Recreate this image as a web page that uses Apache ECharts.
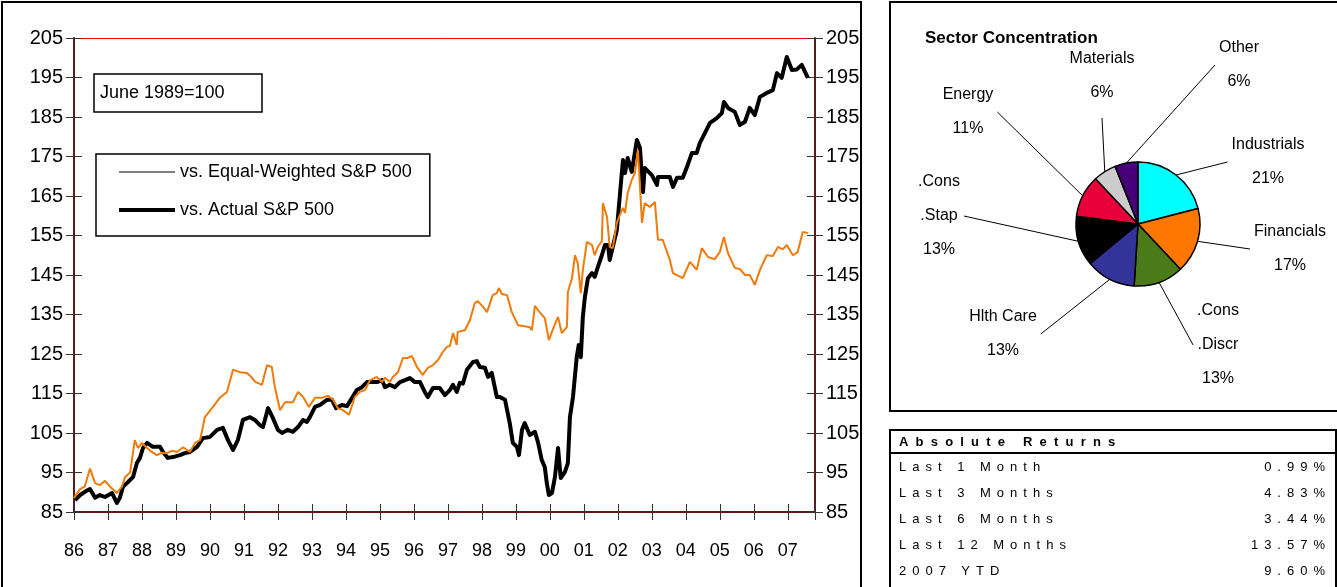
<!DOCTYPE html>
<html>
<head>
<meta charset="utf-8">
<title>Relative performance</title>
<script src="https://cdn.jsdelivr.net/npm/echarts@6/dist/echarts.min.js"></script>
<style>
  html, body { margin: 0; padding: 0; background: #fff; overflow: hidden; }
  #page { position: relative; width: 1337px; height: 587px; }
  .frame { position: absolute; border: 2px solid #000; box-sizing: border-box; }
  #chart { position: absolute; left: 0; top: 0; width: 1337px; height: 587px; }
  #returns { position: absolute; left: 889px; top: 429px; width: 448px; height: 180px;
    border: 2px solid #000; box-sizing: border-box; font-family: 'Liberation Sans', Arial, sans-serif;
    font-size: 13px; color: #000; }
  #returns .head { height: 21px; line-height: 21px; padding-left: 8px; font-weight: bold;
    letter-spacing: 7.2px; border-bottom: 2px solid #000; }
  #returns .row { height: 26px; line-height: 26px; padding: 0 4px 0 8px; letter-spacing: 6px;
    display: flex; justify-content: space-between; }
</style>
</head>
<body>
<div id="page">
  <div class="frame" style="left:1px;top:1px;width:861px;height:600px"></div>
  <div class="frame" style="left:889px;top:1px;width:460px;height:411px"></div>
  <div id="chart"></div>
  <div id="returns"></div>
</div>
<script>
// index levels, June 1989 = 100
const eqYears = [
  1986.00, 1986.18, 1986.32, 1986.47, 1986.62, 1986.76, 1986.91,
  1987.06, 1987.26, 1987.41, 1987.50, 1987.65, 1987.79, 1987.88,
  1988.00, 1988.15, 1988.29, 1988.44, 1988.59, 1988.74, 1988.88,
  1989.03, 1989.21, 1989.41, 1989.56, 1989.71, 1989.85,
  1990.09, 1990.29, 1990.50, 1990.68, 1990.88,
  1991.09, 1991.24, 1991.32, 1991.53, 1991.68, 1991.82, 1991.91,
  1992.06, 1992.21, 1992.44, 1992.59, 1992.74, 1992.91,
  1993.09, 1993.29, 1993.47, 1993.62, 1993.76, 1993.91,
  1994.09, 1994.26, 1994.41, 1994.56, 1994.71, 1994.91,
  1995.06, 1995.15, 1995.29, 1995.38, 1995.53, 1995.68, 1995.82, 1995.94,
  1996.09, 1996.26, 1996.41, 1996.56, 1996.71, 1996.85, 1996.97,
  1997.06, 1997.15, 1997.26, 1997.29, 1997.50, 1997.65, 1997.79, 1997.88,
  1998.03, 1998.15, 1998.32, 1998.44, 1998.50, 1998.59, 1998.74, 1998.88,
  1999.06, 1999.26, 1999.41, 1999.47, 1999.56, 1999.65, 1999.85, 1999.97,
  2000.09, 2000.24, 2000.35, 2000.50, 2000.53, 2000.65, 2000.74, 2000.82, 2000.91, 2000.97,
  2001.09, 2001.24, 2001.32, 2001.41, 2001.53, 2001.56, 2001.68, 2001.76, 2001.85, 2001.97,
  2002.06, 2002.15, 2002.21, 2002.29, 2002.41, 2002.50, 2002.59, 2002.71, 2002.79, 2002.94,
  2003.09, 2003.18, 2003.32, 2003.53, 2003.62, 2003.91,
  2004.12, 2004.32, 2004.47, 2004.65, 2004.85,
  2005.00, 2005.12, 2005.24, 2005.44, 2005.59, 2005.74, 2005.88,
  2006.03, 2006.18, 2006.38, 2006.56, 2006.71, 2006.85, 2006.97,
  2007.15, 2007.29, 2007.44, 2007.59
]
const eqValues = [
  88.5, 90.8, 91.5, 96, 92.3, 91.8, 92.9,
  91.4, 89.8, 91.4, 93.8, 95, 103.2, 101.2,
  102.5, 101.2, 100.2, 99.4, 100, 99.9, 100.5,
  100.2, 101.4, 100.2, 102.5, 103.2, 109,
  111.6, 113.9, 115.4, 121, 120.4,
  120.2, 119, 118, 117.2, 122.2, 121.7, 116.6,
  110.8, 112.8, 112.8, 115.4, 114.1, 111.6,
  113.9, 113.9, 114.4, 113.4, 111.3, 110.8,
  109.6, 114.1, 115.4, 115.9, 118.4, 119.2,
  117.9, 119, 117.9, 119.2, 120.4, 124, 124, 124.5,
  121.7, 119.7, 121.5, 122.2, 123.5, 125.5, 126.8,
  127, 130.3, 127.3, 130.6, 131, 133.6, 137.9, 138.4,
  137, 135.6, 139.9, 140.4, 141.7, 140.2, 139.9, 135.6,
  132.3, 132, 131.8, 131, 137.2, 136.1, 134.1, 128.5,
  131.3, 134.4, 130.3, 131.8, 140.7, 144.2, 150, 148, 140.4, 146.3,
  153.4, 152.6, 150, 152.1, 153.6, 163.2, 159.7, 152.1, 151.8, 158.2,
  160.2, 162, 160.7, 165.8, 169.1, 170.8, 176.6, 158.2, 163.2, 162.2,
  163.5, 153.9, 153.9, 148.8, 145.5, 144.2,
  148.3, 146.3, 151.8, 149.6, 149,
  150.8, 154.6, 150.5, 146.8, 146.5, 145, 145,
  142.5, 146.3, 150, 149.8, 152.1, 151.5, 152.6,
  150, 150.8, 155.9, 155.6
]

const actYears = [
  1986.03, 1986.18, 1986.32, 1986.47, 1986.62, 1986.76, 1986.91,
  1987.12, 1987.26, 1987.35, 1987.44, 1987.59, 1987.74, 1987.85, 1987.94,
  1988.03, 1988.15, 1988.32, 1988.53, 1988.62, 1988.76, 1988.91,
  1989.12, 1989.26, 1989.41, 1989.62, 1989.79,
  1990.00, 1990.21, 1990.38, 1990.53, 1990.68, 1990.82, 1990.97,
  1991.18, 1991.32, 1991.47, 1991.56, 1991.71, 1991.85,
  1992.00, 1992.12, 1992.29, 1992.44, 1992.59, 1992.74, 1992.85, 1992.94,
  1993.09, 1993.24, 1993.44, 1993.59, 1993.71, 1993.88,
  1994.03, 1994.18, 1994.32, 1994.47, 1994.62, 1994.76, 1994.91,
  1995.06, 1995.15, 1995.29, 1995.44, 1995.59, 1995.74, 1995.88,
  1996.03, 1996.18, 1996.32, 1996.41, 1996.56, 1996.76, 1996.91,
  1997.06, 1997.15, 1997.26, 1997.35, 1997.44, 1997.56, 1997.74, 1997.85, 1997.94,
  1998.09, 1998.18, 1998.29, 1998.44, 1998.53, 1998.68, 1998.82, 1998.91,
  1999.03, 1999.09, 1999.18, 1999.26, 1999.41, 1999.56, 1999.65, 1999.76, 1999.85, 1999.91, 1999.97,
  2000.06, 2000.15, 2000.24, 2000.32, 2000.44, 2000.53, 2000.59, 2000.68, 2000.79, 2000.85, 2000.91, 2000.97,
  2001.03, 2001.12, 2001.24, 2001.32, 2001.41, 2001.53, 2001.62, 2001.71, 2001.76, 2001.85, 2001.97,
  2002.06, 2002.15, 2002.21, 2002.29, 2002.41, 2002.56, 2002.65, 2002.74, 2002.79,
  2003.00, 2003.15, 2003.18, 2003.53, 2003.62, 2003.74, 2003.91,
  2004.03, 2004.18, 2004.32, 2004.41, 2004.56, 2004.71, 2004.91,
  2005.06, 2005.12, 2005.24, 2005.44, 2005.59, 2005.74, 2005.88,
  2006.03, 2006.18, 2006.38, 2006.56, 2006.68, 2006.82, 2006.97,
  2007.12, 2007.26, 2007.41, 2007.59
]
const actValues = [
  88, 89.3, 90.1, 90.8, 88.6, 89.3, 88.8,
  89.8, 87.3, 88.6, 91.4, 92.6, 93.9, 97.4, 98.7,
  101.2, 102.5, 101.5, 101.5, 100.2, 98.7, 98.9,
  99.4, 99.9, 100.2, 101.5, 103.7,
  104, 105.8, 106.3, 103.2, 100.7, 103.2, 108.3,
  109, 108.3, 107, 106.5, 111.3, 108.8,
  105.8, 105, 105.8, 105.3, 106.5, 108.3, 107.8, 109,
  111.6, 112.1, 113.4, 113.4, 111.3, 112.1,
  111.8, 113.9, 115.9, 116.6, 117.9, 117.9, 117.9,
  118.4, 116.6, 117.2, 116.6, 117.9, 118.4, 118.9,
  117.9, 117.9, 115.4, 114.1, 116.4, 116.4, 114.6,
  115.9, 117.2, 115.4, 117.7, 117.5, 121, 123, 123.2, 121.7,
  121.5, 119.2, 120.2, 114.1, 114.1, 113.4, 107.5, 102.5,
  101.5, 99.4, 105.8, 107.5, 104.5, 105.3, 102.7, 98.2, 96.4, 92.3, 89.3,
  89.8, 93.9, 101.2, 93.6, 95.1, 97.4, 109, 114.1, 124.2, 127.3, 124.2, 134.4,
  139.4, 144.2, 145.5, 144.5, 147, 150, 152.6, 152.6, 148.8, 152.1, 156.4,
  165.3, 174.1, 170.8, 174.6, 171.1, 179.2, 177.2, 166, 172.1,
  170.3, 167.8, 169.8, 169.8, 167.3, 169.6, 169.6,
  172.3, 175.9, 175.9, 178.4, 180.9, 183.5, 184.7,
  186, 188.8, 187.3, 186.3, 183, 183.8, 187.3,
  185.5, 190.1, 191.1, 191.8, 196.1, 194.9, 200.2,
  196.9, 197, 198.2, 194.9
]

// sector weights, clockwise from 12 o'clock
const sectorNames = ['Industrials', 'Financials', '.Cons\n.Discr', 'Hlth Care', '.Cons\n.Stap', 'Energy', 'Materials', 'Other']
const sectorWeights = [21, 17, 13, 13, 13, 11, 6, 6]
const sectorColors = ['#00ffff', '#ff7700', '#4b7a18', '#333399', '#000000', '#e8003a', '#cccccc', '#47007a']

const returnLabels = ['Last 1 Month', 'Last 3 Months', 'Last 6 Months', 'Last 12 Months', '2007 YTD']
const returnValues = ['0.99%', '4.83%', '3.44%', '13.57%', '9.60%']

const FONT = "'Liberation Sans', Arial, sans-serif"
const AXIS_COLOR = '#5e1a1a'
const pieCenter = [1138, 224]
// where each pie label sits, relative to the pie centre (hand placed, like the original),
// and which side of the label its leader line runs to
const labelOffsets = [[130, -62], [152, 25], [80, 121], [-135, 110], [-199, -8], [-170, -112], [-36, -148], [101, -159]]
const labelSides = ['left', 'left', 'left', 'right', 'right', 'right', 'bottom', 'left']

function zip(xs, ys) {
  return xs.map(function (x, i) { return [x, ys[i]] })
}

function yearAxis(extra) {
  let axis = {
    type: 'value', min: 1986, max: 2007.8, interval: 1,
    splitLine: {show: false},
    axisLine: {show: false},
    axisTick: {show: false},
    axisLabel: {show: false}
  }
  return Object.assign(axis, extra)
}

function levelAxis(extra) {
  let axis = {
    type: 'value', min: 85, max: 205, interval: 10,
    splitLine: {show: false},
    axisLine: {show: false},
    axisTick: {show: false},
    axisLabel: {show: false}
  }
  return Object.assign(axis, extra)
}

const tickStyle = {show: true, length: 8, lineStyle: {color: '#333', width: 1}}
const yLabel = {show: true, color: '#000', fontSize: 20, fontFamily: FONT, margin: 11}

// end of a leader line: just off the chosen side of the moved label
function leaderEnd(side, cx, cy, rect) {
  let gap = 4
  if (side === 'left') return [cx - rect.width / 2 - gap, cy]
  if (side === 'right') return [cx + rect.width / 2 + gap, cy]
  return [cx, cy + rect.height / 2 + gap + 4]
}

let option = {
  animation: false,
  grid: {left: 74, right: 522, top: 38, bottom: 75, outerBoundsMode: 'none'},
  xAxis: [
    yearAxis({
      position: 'bottom',
      axisLine: {show: true, onZero: false, lineStyle: {color: AXIS_COLOR, width: 2}},
      axisTick: tickStyle,
      axisLabel: {
        show: true, color: '#000', fontSize: 18, fontFamily: FONT, margin: 30,
        formatter: function (v) { return Number.isInteger(v) ? String(v).slice(2) : '' }
      }
    }),
    // second copy only to get ticks that cross the axis line
    yearAxis({position: 'bottom', axisTick: Object.assign({inside: true}, tickStyle)}),
    yearAxis({position: 'top', axisLine: {show: true, onZero: false, lineStyle: {color: '#ff0000', width: 1}}})
  ],
  yAxis: [
    levelAxis({
      position: 'left',
      axisLine: {show: true, onZero: false, lineStyle: {color: AXIS_COLOR, width: 2}},
      axisTick: tickStyle,
      axisLabel: yLabel
    }),
    levelAxis({position: 'left', axisTick: Object.assign({inside: true}, tickStyle)}),
    levelAxis({
      position: 'right',
      axisLine: {show: true, onZero: false, lineStyle: {color: AXIS_COLOR, width: 2}},
      axisTick: tickStyle,
      axisLabel: yLabel
    }),
    levelAxis({position: 'right', axisTick: Object.assign({inside: true}, tickStyle)})
  ],
  legend: {
    left: 96, top: 154,
    orient: 'vertical',
    selectedMode: false,
    itemWidth: 56, itemHeight: 14, itemGap: 20,
    padding: [9, 18, 17, 23],
    borderColor: '#000', borderWidth: 1.5,
    backgroundColor: '#fff',
    textStyle: {color: '#000', fontSize: 18, fontFamily: FONT},
    data: [
      {name: 'vs. Equal-Weighted S&P 500', icon: 'path://M0,0H56V1.2H0Z', itemStyle: {color: '#000'}},
      {name: 'vs. Actual S&P 500', icon: 'path://M0,0H56V4H0Z', itemStyle: {color: '#000'}}
    ]
  },
  graphic: [
    {type: 'rect', shape: {x: 94, y: 74, width: 168, height: 38}, style: {fill: '#fff', stroke: '#000', lineWidth: 1.5}},
    {type: 'text', x: 100, y: 93, style: {text: 'June 1989=100', font: '18px ' + FONT, fill: '#000', verticalAlign: 'middle'}},
    {type: 'text', x: 925, y: 38, style: {text: 'Sector Concentration', font: 'bold 17px ' + FONT, fill: '#000', verticalAlign: 'middle'}}
  ],
  series: [
    {
      name: 'vs. Actual S&P 500',
      type: 'line',
      symbol: 'none',
      data: zip(actYears, actValues),
      lineStyle: {color: '#000', width: 4, join: 'round'},
      itemStyle: {color: '#000'},
      z: 2
    },
    {
      name: 'vs. Equal-Weighted S&P 500',
      type: 'line',
      symbol: 'none',
      data: zip(eqYears, eqValues),
      lineStyle: {color: '#f07a0a', width: 2},
      itemStyle: {color: '#f07a0a'},
      z: 3
    },
    {
      name: 'Sector Concentration',
      type: 'pie',
      center: pieCenter,
      radius: 62,
      startAngle: 90,
      clockwise: true,
      avoidLabelOverlap: false,
      data: sectorNames.map(function (name, i) {
        return {name: name, value: sectorWeights[i], itemStyle: {color: sectorColors[i]}}
      }),
      itemStyle: {borderColor: '#000', borderWidth: 1.5},
      label: {
        show: true,
        position: 'outside',
        color: '#000',
        fontSize: 16,
        fontFamily: FONT,
        lineHeight: 34,
        align: 'center',
        formatter: function (p) { return p.name + '\n' + p.value + '%' }
      },
      labelLine: {show: true, length: 10, length2: 3, smooth: false, lineStyle: {color: '#000', width: 1}},
      labelLayout: function (params) {
        let i = params.dataIndex
        let cx = pieCenter[0] + labelOffsets[i][0]
        let cy = pieCenter[1] + labelOffsets[i][1]
        let start = params.labelLinePoints[0]
        let end = leaderEnd(labelSides[i], cx, cy, params.labelRect)
        return {
          x: cx, y: cy, align: 'center', verticalAlign: 'middle',
          labelLinePoints: [start, end, end]
        }
      },
      emphasis: {disabled: true}
    }
  ]
}

let myChart = echarts.init(document.getElementById('chart'))
myChart.setOption(option)

// returns table
let box = document.getElementById('returns')
let html = '<div class="head">Absolute Returns</div>'
for (let i = 0; i < returnLabels.length; i++) {
  html += '<div class="row"><span>' + returnLabels[i] + '</span><span>' + returnValues[i] + '</span></div>'
}
box.innerHTML = html
</script>
</body>
</html>
